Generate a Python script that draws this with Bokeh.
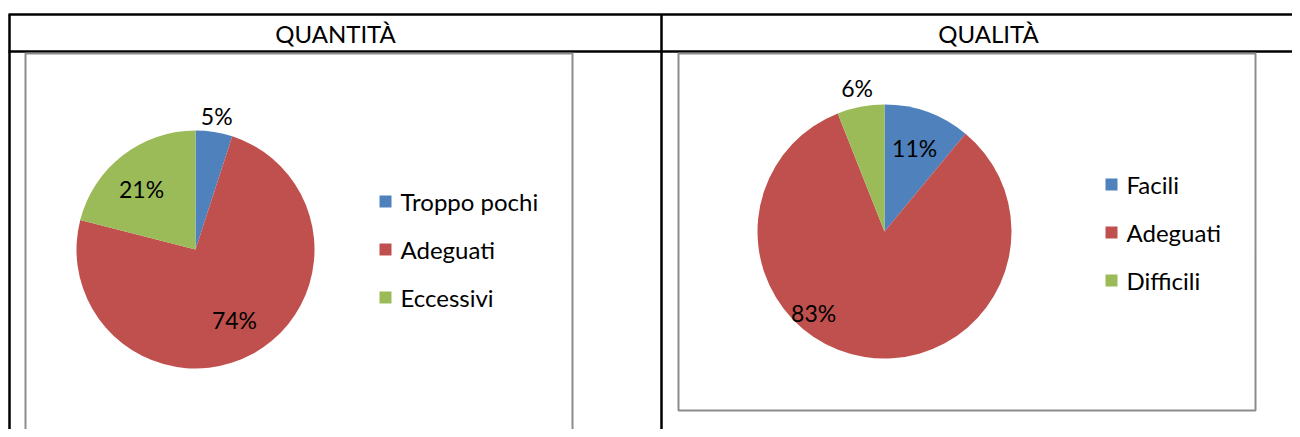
import math
from bokeh.plotting import figure
from bokeh.models import Range1d, ColumnDataSource
from bokeh.core.properties import value
from bokeh.embed import file_html
from bokeh.resources import INLINE

# ---- data ----
titles = ["QUANTITÀ", "QUALITÀ"]
quant_labels = ["Troppo pochi", "Adeguati", "Eccessivi"]
quant_values = [5, 74, 21]
qual_labels = ["Facili", "Adeguati", "Difficili"]
qual_values = [11, 83, 6]
colors = ["#4F81BD", "#C0504D", "#9BBB59"]

# ---- layout (picture pixel coords) ----
W, H = 1292, 429
FONT = "Lato"


def X(px):
    return px


def Y(py):
    return H - py


p = figure(width=W, height=H, x_range=Range1d(0, W), y_range=Range1d(0, H),
           output_backend="svg", toolbar_location=None, min_border=0)
p.axis.visible = False
p.grid.visible = False
p.outline_line_color = None
p.background_fill_color = "white"

# table lines
p.segment(x0=[X(8), X(8), X(9), X(661)], y0=[Y(14), Y(51), Y(14), Y(14)],
          x1=[X(1310), X(1310), X(9), X(661)], y1=[Y(14), Y(51), Y(450), Y(450)],
          line_color="black", line_width=2.5)

# chart boxes
boxes = [dict(l=25, r=572, t=53, b=445), dict(l=678, r=1255, t=53, b=410)]
for b in boxes:
    p.quad(left=X(b["l"]), right=X(b["r"]), top=Y(b["t"]), bottom=Y(b["b"]),
           fill_color=None, line_color="#8C8C8C", line_width=2)

# headers
p.text(x=[X(335), X(988)], y=[Y(33), Y(33)], text=titles,
       text_font=value(FONT), text_font_size="24px", text_color="black",
       text_align="center", text_baseline="middle")

pies = [
    dict(vals=quant_values, labels=quant_labels, cx=195, cy=249, r=119,
         lab_r=[1.14, 0.68, 0.68], lab_shift=[0, 0, -4],
         leg_x=385, leg_y=[201, 249, 297]),
    dict(vals=qual_values, labels=qual_labels, cx=884, cy=231, r=127,
         lab_r=[0.70, 0.85, 1.15], lab_shift=[0, 32, 0],
         leg_x=1111, leg_y=[184, 232, 280]),
]

for pie in pies:
    vals = pie["vals"]
    tot = float(sum(vals))
    starts, ends, lx, ly, txt = [], [], [], [], []
    cum = 0.0
    for i, v in enumerate(vals):
        f0 = cum / tot
        cum += v
        f1 = cum / tot
        starts.append(math.pi / 2 - 2 * math.pi * f1)
        ends.append(math.pi / 2 - 2 * math.pi * f0)
        mid = (f0 + f1) / 2 * 2 * math.pi + math.radians(pie["lab_shift"][i])
        rr = pie["r"] * pie["lab_r"][i]
        lx.append(X(pie["cx"]) + rr * math.sin(mid))
        ly.append(Y(pie["cy"]) + rr * math.cos(mid))
        txt.append(f"{v}%")
    src = ColumnDataSource(dict(start=starts, end=ends, color=colors))
    p.wedge(x=X(pie["cx"]), y=Y(pie["cy"]), radius=pie["r"], start_angle="start",
            end_angle="end", fill_color="color", line_color=None, source=src)
    p.text(x=lx, y=ly, text=txt, text_font=value(FONT), text_font_size="23px",
           text_color="black", text_align="center", text_baseline="middle")
    # legend
    n = len(vals)
    p.rect(x=[X(pie["leg_x"])] * n, y=[Y(v) for v in pie["leg_y"]], width=12, height=12,
           fill_color=colors, line_color=None)
    p.text(x=[X(pie["leg_x"] + 15)] * n, y=[Y(v) for v in pie["leg_y"]], text=pie["labels"],
           text_font=value(FONT), text_font_size="24px", text_color="black",
           text_align="left", text_baseline="middle")

open("out.html", "w").write(file_html(p, INLINE))
